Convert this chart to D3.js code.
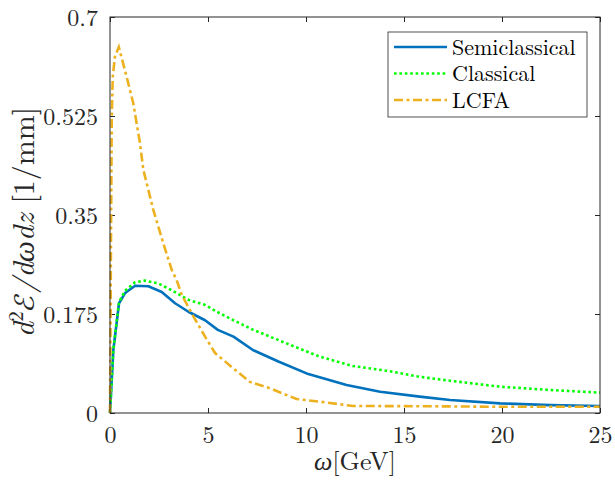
<!DOCTYPE html>
<html><head><meta charset="utf-8">
<script src="https://cdn.jsdelivr.net/npm/d3@7"></script>
<style>
body{margin:0;background:#fff;}
</style></head>
<body>
<svg id="c" width="615" height="481"></svg>
<script>
const xTicks = [0,5,10,15,20,25];
const xTickLabels = ["0","5","10","15","20","25"];
const yTicks = [0,0.175,0.35,0.525,0.7];
const yTickLabels = ["0","0.175","0.35","0.525","0.7"];

const semiW = [0,0.17,0.46,0.77,1.28,1.96,2.64,3.32,4.0,4.85,5.5,6.3,7.31,8.59,10.03,12.07,13.78,15.8,17.35,19.9,22.45,25];
const semiV = [0,0.111,0.194,0.212,0.225,0.224,0.214,0.194,0.179,0.164,0.147,0.135,0.111,0.091,0.070,0.0495,0.0377,0.0289,0.023,0.017,0.014,0.0124];

const clasW = [0,0.17,0.46,0.77,1.28,1.79,2.47,3.15,4.0,4.85,5.61,6.3,7.31,9.01,10.71,12.4,14.1,15.8,17.35,19.9,22.45,25];
const clasV = [0,0.111,0.196,0.216,0.231,0.234,0.229,0.217,0.200,0.191,0.176,0.164,0.147,0.123,0.0995,0.083,0.0748,0.064,0.057,0.0465,0.0407,0.036];

const lcfaW = [0,0.05,0.09,0.14,0.25,0.45,0.85,1.19,1.53,1.70,2.21,2.72,3.15,3.40,3.66,4.17,4.85,5.36,6.29,7.14,8.16,9.52,10.71,12.4,15.8,20,25];
const lcfaV = [0,0.3,0.524,0.594,0.63,0.647,0.594,0.547,0.477,0.43,0.359,0.300,0.253,0.235,0.209,0.176,0.135,0.106,0.079,0.055,0.0436,0.0247,0.020,0.0124,0.012,0.011,0.011];

const seriesNames = ["Semiclassical","Classical","LCFA"];

const FONT = '"Latin Modern Roman","CMU Serif","Liberation Serif",serif';
const svg = d3.select("#c");
svg.append("rect").attr("width",615).attr("height",481).attr("fill","#fff");
const L=110,R=600,T=17,B=413;
const x = d3.scaleLinear().domain([0,25]).range([L,R]);
const y = d3.scaleLinear().domain([0,0.7]).range([B,T]);
const axCol="#262626";

const gx = svg.append("g").attr("transform",`translate(0,${B})`)
  .call(d3.axisBottom(x).tickValues(xTicks).tickFormat((d,i)=>xTickLabels[i]).tickSizeInner(-5).tickSizeOuter(0).tickPadding(13));
const gy = svg.append("g").attr("transform",`translate(${L},0)`)
  .call(d3.axisLeft(y).tickValues(yTicks).tickFormat((d,i)=>yTickLabels[i]).tickSizeInner(-5).tickSizeOuter(0).tickPadding(12));
const gt = svg.append("g").attr("transform",`translate(0,${T})`)
  .call(d3.axisTop(x).tickValues(xTicks).tickFormat("").tickSizeInner(-5).tickSizeOuter(0));
const gr = svg.append("g").attr("transform",`translate(${R},0)`)
  .call(d3.axisRight(y).tickValues(yTicks).tickFormat("").tickSizeInner(-5).tickSizeOuter(0));
[gx,gy,gt,gr].forEach(g=>{
  g.select(".domain").remove();
  g.selectAll("line").attr("stroke",axCol).attr("stroke-width",1);
  g.selectAll("text").style("font-size","24px").style("fill",axCol).style("font-family",FONT);
});
gy.selectAll("text").attr("dy","0.34em");

const line = d3.line().x(d=>x(d[0])).y(d=>y(d[1]));
const zip=(a,b)=>a.map((v,i)=>[v,b[i]]);
const plot = svg.append("g");
plot.append("path").datum(zip(semiW,semiV)).attr("d",line).attr("fill","none")
  .attr("stroke","#0072BD").attr("stroke-width",2.6).attr("stroke-linejoin","round");
plot.append("path").datum(zip(clasW,clasV)).attr("d",line).attr("fill","none")
  .attr("stroke","#00FF00").attr("stroke-width",2.6).attr("stroke-dasharray","2.6,2.8");
plot.append("path").datum(zip(lcfaW,lcfaV)).attr("d",line).attr("fill","none")
  .attr("stroke","#EDB120").attr("stroke-width",2.6).attr("stroke-dasharray","9,3.5,3,3.5");

svg.append("rect").attr("x",L).attr("y",T).attr("width",R-L).attr("height",B-T)
  .attr("fill","none").attr("stroke",axCol).attr("stroke-width",1);

const xl = svg.append("text").attr("x",355).attr("y",470).attr("text-anchor","middle")
  .style("font-size","26px").style("font-family",FONT).style("fill",axCol);
xl.append("tspan").style("font-style","italic").text("ω");
xl.append("tspan").text("[GeV]");

const yl = svg.append("text").attr("transform","translate(34,222) rotate(-90)").attr("text-anchor","middle")
  .style("font-size","30px").style("font-family",FONT).style("fill",axCol);
yl.append("tspan").style("font-style","italic").text("d");
yl.append("tspan").style("font-size","21px").attr("dy",-11).text("2");
yl.append("tspan").attr("dy",11).style("font-family",'"Latin Modern Math","STIX Two Math",serif').text("ℰ");
yl.append("tspan").style("font-style","italic").text("/dωdz");
yl.append("tspan").text(" [1/mm]");

const lg = svg.append("g");
lg.append("rect").attr("x",388).attr("y",32).attr("width",199).attr("height",85)
  .attr("fill","#fff").attr("stroke",axCol).attr("stroke-width",0.8);
const legStyles=[{c:"#0072BD",d:null},{c:"#00FF00",d:"2.6,2.8"},{c:"#EDB120",d:"9,3.5,3,3.5"}];
seriesNames.forEach((n,i)=>{
  const yy = 47 + i*26.5;
  const ln = lg.append("line").attr("x1",394).attr("x2",447).attr("y1",yy).attr("y2",yy)
    .attr("stroke",legStyles[i].c).attr("stroke-width",2.6);
  if(legStyles[i].d) ln.attr("stroke-dasharray",legStyles[i].d);
  lg.append("text").attr("x",452).attr("y",yy+7.5).style("font-size","22px").style("font-family",FONT).style("fill","#000").text(n);
});
</script>
</body></html>
